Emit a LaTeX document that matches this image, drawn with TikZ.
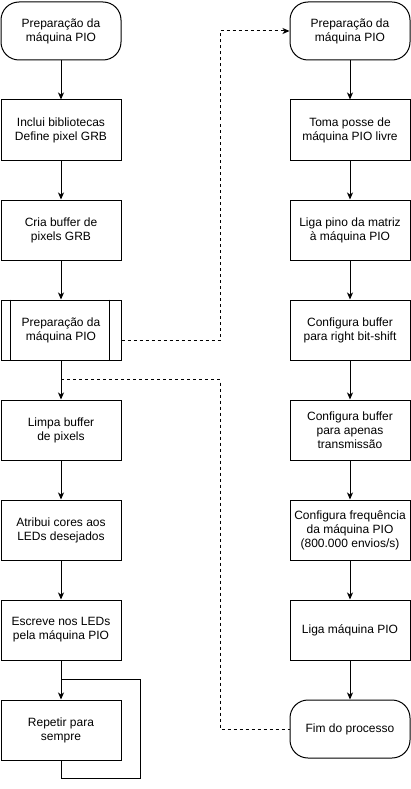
\documentclass[tikz,border=0pt]{standalone}
\usepackage{fontspec}
\setmainfont{Liberation Sans}
\usetikzlibrary{arrows.meta,positioning}

\begin{document}
\begin{tikzpicture}[
  x=1pt, y=-1pt,
  node distance=39pt,
  every node/.style={font=\fontsize{12}{14}\selectfont},
  termbox/.style={draw, line width=1pt, rounded corners=18pt, align=center, minimum width=120pt, minimum height=58pt},
  procbox/.style={draw, line width=1pt, align=center, minimum width=120pt, minimum height=60pt},
  arrow/.style={-{Stealth[length=7pt,width=6pt,inset=2pt]}, line width=1pt},
  dashlink/.style={line width=1pt, dash pattern=on 3pt off 3pt}
]
  \useasboundingbox (0,0) rectangle (411,789);

  % Main program (left column)
  \node[termbox] (startL) at (61,31) {Preparação da\\máquina PIO};
  \node[procbox, below=of startL] (libs) {Inclui bibliotecas\\Define pixel GRB};
  \node[procbox, below=of libs] (buffer) {Cria buffer de\\pixels GRB};
  \node[procbox, below=of buffer] (sub) {Preparação da\\máquina PIO};
  \draw[line width=1pt] ([xshift=10pt]sub.north west) -- ([xshift=10pt]sub.south west);
  \draw[line width=1pt] ([xshift=-12pt]sub.north east) -- ([xshift=-12pt]sub.south east);
  \node[procbox, below=of sub] (clear) {Limpa buffer\\de pixels};
  \node[procbox, below=of clear] (colors) {Atribui cores aos\\LEDs desejados};
  \node[procbox, below=of colors] (write) {Escreve nos LEDs\\pela máquina PIO};
  \node[procbox, below=of write] (repeat) {Repetir para\\sempre};

  \foreach \a/\b in {startL/libs, libs/buffer, buffer/sub, sub/clear, clear/colors, colors/write, write/repeat}
    \draw[arrow] (\a) -- (\b);

  % Loop back
  \coordinate[below=18pt of repeat.south] (loopB);
  \coordinate[right=19pt of repeat.east] (loopR);
  \coordinate[above=20pt of repeat.north] (loopT);
  \draw[line width=1pt] (repeat.south) -- (loopB) -| (loopR) |- (loopT);

  % PIO setup (right column)
  \node[termbox] (startR) at (350,31) {Preparação da\\máquina PIO};
  \node[procbox, below=of startR] (claim) {Toma posse de\\máquina PIO livre};
  \node[procbox, below=of claim] (pin) {Liga pino da matriz\\à máquina PIO};
  \node[procbox, below=of pin] (shift) {Configura buffer\\para right bit-shift};
  \node[procbox, below=of shift] (txonly) {Configura buffer\\para apenas\\transmissão};
  \node[procbox, below=of txonly] (freq) {Configura frequência\\da máquina PIO\\(800.000 envios/s)};
  \node[procbox, below=of freq] (enable) {Liga máquina PIO};
  \node[termbox, below=of enable] (finish) {Fim do processo};

  \foreach \a/\b in {startR/claim, claim/pin, pin/shift, shift/txonly, txonly/freq, freq/enable, enable/finish}
    \draw[arrow] (\a) -- (\b);

  % Dashed links between the columns
  \coordinate (bus) at (220,0);
  \coordinate[below=19pt of sub.south] (tap);
  \draw[dashlink, arrow] ([yshift=-10pt]sub.east) -| (bus |- startR.west) -- (startR.west);
  \draw[dashlink] (tap) -| (bus |- finish.west) -- (finish.west);
\end{tikzpicture}
\end{document}
